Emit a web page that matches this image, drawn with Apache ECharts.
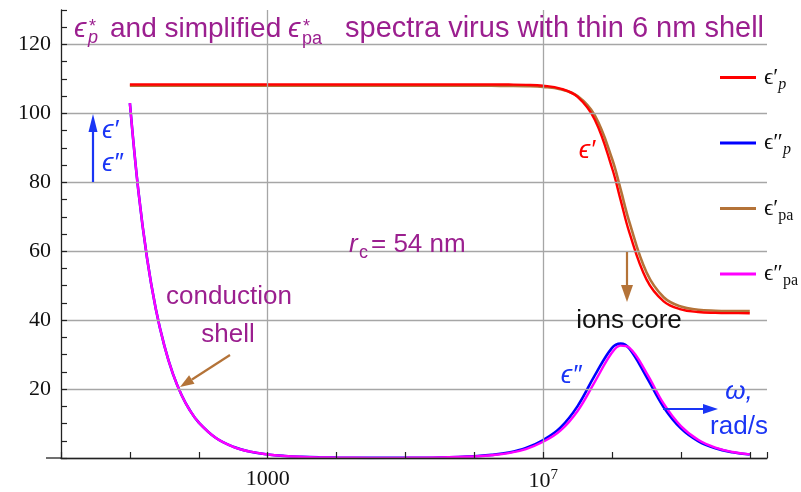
<!DOCTYPE html>
<html>
<head>
<meta charset="UTF-8">
<title></title>
<script src="https://cdn.jsdelivr.net/npm/echarts@6/dist/echarts.min.js"></script>
<style>html,body{margin:0;padding:0;background:#fff;}</style>
</head>
<body>
<div id="main" style="width:801px;height:492px;"></div>
<script type="text/javascript">
// log10 of omega, rad/s
var logW = [1, 1.125, 1.25, 1.375, 1.5, 1.625, 1.75, 1.875, 2, 2.25, 2.5, 2.75, 3, 3.25, 3.5, 3.75, 4, 4.5, 5, 5.5,
    6, 6.25, 6.5, 6.75, 7, 7.25, 7.5, 7.75, 8, 8.125, 8.25, 8.5, 8.75, 9, 9.25, 9.5, 9.75, 10];

// eps'_p (red)
var epsReP = [108.4, 108.4, 108.4, 108.4, 108.4, 108.4, 108.4, 108.4, 108.4, 108.4, 108.4, 108.4, 108.4, 108.4, 108.4, 108.4, 108.4, 108.4, 108.4, 108.4,
    108.4, 108.39, 108.36, 108.28, 108.02, 107.21, 104.79, 98.18, 84.15, 74.82, 65.55, 51.83, 45.46, 43.13, 42.36, 42.12, 42.04, 42.01];
// eps''_p (blue)
var epsImP = [103.0, 77.2, 57.9, 43.4, 32.6, 24.4, 18.3, 13.7, 10.3, 5.79, 3.26, 1.83, 1.03, 0.58, 0.33, 0.18, 0.1, 0.05, 0.06, 0.16,
    0.5, 0.9, 1.59, 2.9, 5.2, 8.8, 15.06, 23.96, 31.97, 33.2, 31.77, 23.58, 14.75, 8.6, 4.91, 2.8, 1.65, 1.0];
// eps'_pa (brown)
var epsRePa = [108.0, 108.0, 108.0, 108.0, 108.0, 108.0, 108.0, 108.0, 108.0, 108.0, 108.0, 108.0, 108.0, 108.0, 108.0, 108.0, 108.0, 108.0, 108.0, 108.0,
    108.0, 108.0, 107.97, 107.9, 107.69, 107.02, 105.01, 99.4, 86.83, 77.93, 68.61, 53.9, 46.65, 43.94, 43.03, 42.74, 42.64, 42.61];
// eps''_pa (magenta)
var epsImPa = [103.0, 77.2, 57.9, 43.4, 32.6, 24.4, 18.3, 13.7, 10.3, 5.79, 3.26, 1.83, 1.03, 0.58, 0.33, 0.18, 0.1, 0.04, 0.05, 0.14,
    0.45, 0.8, 1.43, 2.6, 4.7, 7.93, 13.65, 22.1, 30.6, 32.6, 32.01, 24.73, 15.76, 9.26, 5.28, 3.0, 1.75, 1.05];

var seriesNames = ['ϵ′|p', 'ϵ″|p', 'ϵ′|pa', 'ϵ″|pa'];
var seriesColors = ['#ff0000', '#0000ff', '#b47338', '#ff00ff'];

var yTicks = [20, 40, 60, 80, 100, 120];

var purple = '#9b1f8f';
var blueTxt = '#1a35f5';
var brownArr = '#b47338';
var sans = '"Liberation Sans", Arial, sans-serif';
var serif = '"Liberation Serif", "DejaVu Serif", serif';

function pairs(ys) {
    var out = [];
    for (var i = 0; i < logW.length; i++) out.push([logW[i], ys[i]]);
    return out;
}

function txt(x, y, s, size, color, align, italic) {
    return {
        type: 'text', x: x, y: y, silent: true, z: 100,
        style: {
            text: s, fill: color, fontSize: size, fontFamily: sans,
            fontStyle: italic ? 'italic' : 'normal',
            textAlign: align, align: align,
            textVerticalAlign: 'middle', verticalAlign: 'middle'
        }
    };
}

function seg(x1, y1, x2, y2, color, w) {
    return {type: 'line', silent: true, z: 100, shape: {x1: x1, y1: y1, x2: x2, y2: y2},
        style: {stroke: color, lineWidth: w || 2.2}};
}

function head(pts, color) {
    return {type: 'polygon', silent: true, z: 100, shape: {points: pts}, style: {fill: color}};
}

var myChart = echarts.init(document.getElementById('main'));

var option = {
    animation: false,
    backgroundColor: '#fff',
    grid: {left: 61, right: 34, top: 10, bottom: 34, containLabel: false},
    legend: {
        orient: 'vertical',
        left: 715,
        top: 61,
        itemGap: 39,
        itemWidth: 36,
        itemHeight: 3,
        icon: 'rect',
        data: seriesNames,
        selectedMode: false,
        formatter: function (name) {
            var p = name.split('|');
            return '{e|' + p[0] + '}{' + (p[1] === 'p' ? 's' : 'r') + '|' + p[1] + '}';
        },
        textStyle: {
            padding: [0, 0, 0, 3],
            rich: {
                e: {fontFamily: serif, fontSize: 23, lineHeight: 30, color: '#111'},
                s: {fontFamily: serif, fontSize: 16, fontStyle: 'italic', lineHeight: 14, verticalAlign: 'bottom', color: '#111'},
                r: {fontFamily: serif, fontSize: 16, lineHeight: 14, verticalAlign: 'bottom', color: '#111'}
            }
        }
    },
    xAxis: {
        type: 'value',
        min: 0,
        max: 10.25,
        interval: 1,
        z: 10,
        axisLine: {lineStyle: {color: '#222', width: 1.3}},
        axisTick: {inside: true, length: 6, lineStyle: {color: '#222', width: 1.2}},
        splitLine: {show: false},
        axisLabel: {
            margin: 10,
            color: '#111',
            fontFamily: serif,
            fontSize: 22,
            formatter: function (v) {
                if (v === 3) return '1000';
                if (v === 7) return '{b|10}{s|7}';
                return '';
            },
            rich: {
                b: {fontFamily: serif, fontSize: 22, lineHeight: 26, color: '#111'},
                s: {fontFamily: serif, fontSize: 15, lineHeight: 14, verticalAlign: 'top', color: '#111'}
            }
        }
    },
    yAxis: {
        type: 'value',
        min: 0,
        max: 130,
        interval: 10,
        z: 10,
        axisLine: {show: true, lineStyle: {color: '#222', width: 1.3}},
        axisTick: {show: true, inside: true, length: 6, lineStyle: {color: '#222', width: 1.2}},
        minorTick: {show: true, splitNumber: 2, length: 6, lineStyle: {color: '#222', width: 1.2}},
        splitLine: {show: true, lineStyle: {color: ['#a6a6a6', 'transparent'], width: 1.3}},
        axisLabel: {
            margin: 10,
            color: '#111',
            fontFamily: serif,
            fontSize: 22,
            formatter: function (v) {
                return yTicks.indexOf(v) >= 0 ? String(v) : '';
            }
        }
    },
    series: [
        {
            name: seriesNames[2], type: 'line', z: 2, data: pairs(epsRePa),
            smooth: 0.4, showSymbol: false, lineStyle: {color: seriesColors[2], width: 2.6}, itemStyle: {color: seriesColors[2]},
            markLine: {
                silent: true, symbol: ['none', 'none'], label: {show: false},
                lineStyle: {color: '#a6a6a6', width: 1.3, type: 'solid'},
                data: [{xAxis: 3}, {xAxis: 7}]
            }
        },
        {
            name: seriesNames[0], type: 'line', z: 3, data: pairs(epsReP),
            smooth: 0.4, showSymbol: false, lineStyle: {color: seriesColors[0], width: 2.4}, itemStyle: {color: seriesColors[0]}
        },
        {
            name: seriesNames[1], type: 'line', z: 2, data: pairs(epsImP),
            smooth: 0.4, showSymbol: false, lineStyle: {color: seriesColors[1], width: 2.6}, itemStyle: {color: seriesColors[1]}
        },
        {
            name: seriesNames[3], type: 'line', z: 3, data: pairs(epsImPa),
            smooth: 0.4, showSymbol: false, lineStyle: {color: seriesColors[3], width: 2.4}, itemStyle: {color: seriesColors[3]}
        }
    ],
    graphic: [
        // x axis line runs a bit left of the frame
        seg(46, 458, 61, 458, '#222', 1.3),
        // title
        txt(74, 29, 'ϵ', 28, purple, 'left', true),
        txt(89, 27, '*', 18, purple, 'left', false),
        txt(88, 38, 'p', 18, purple, 'left', true),
        txt(110, 29, 'and simplified', 28, purple, 'left', false),
        txt(288, 29, 'ϵ', 28, purple, 'left', true),
        txt(303, 27, '*', 18, purple, 'left', false),
        txt(302, 39, 'pa', 18, purple, 'left', false),
        txt(345, 29, 'spectra virus with thin 6 nm shell', 29, purple, 'left', false),
        // left arrow with eps labels
        seg(93, 182, 93, 128, blueTxt),
        head([[93, 114], [88.5, 132], [97.5, 132]], blueTxt),
        txt(102, 131, 'ϵ′', 26, blueTxt, 'left', true),
        txt(102, 164, 'ϵ″', 26, blueTxt, 'left', true),
        // r_c
        txt(349, 245, 'r', 26, purple, 'left', true),
        txt(359, 253, 'c', 18, purple, 'left', false),
        txt(371, 245, '= 54 nm', 26, purple, 'left', false),
        // conduction shell
        txt(229, 297, 'conduction', 26, purple, 'center', false),
        txt(228, 335, 'shell', 26, purple, 'center', false),
        seg(230, 355, 192, 379.5, brownArr),
        head([[180, 387], [194.5, 383.7], [189.1, 375.3]], brownArr),
        // ions core
        txt(587, 151, 'ϵ′', 26, '#ff0000', 'center', true),
        seg(627, 252, 627, 288, brownArr),
        head([[627, 302], [621, 285], [633, 285]], brownArr),
        txt(629, 321, 'ions core', 26, '#111', 'center', false),
        txt(571, 376, 'ϵ″', 26, blueTxt, 'center', true),
        // omega
        seg(663, 409, 705, 409, blueTxt),
        head([[718, 409], [703, 404], [703, 414]], blueTxt),
        txt(739, 392, 'ω,', 26, blueTxt, 'center', true),
        txt(739, 427, 'rad/s', 26, blueTxt, 'center', false)
    ]
};

myChart.setOption(option);
</script>
</body>
</html>
